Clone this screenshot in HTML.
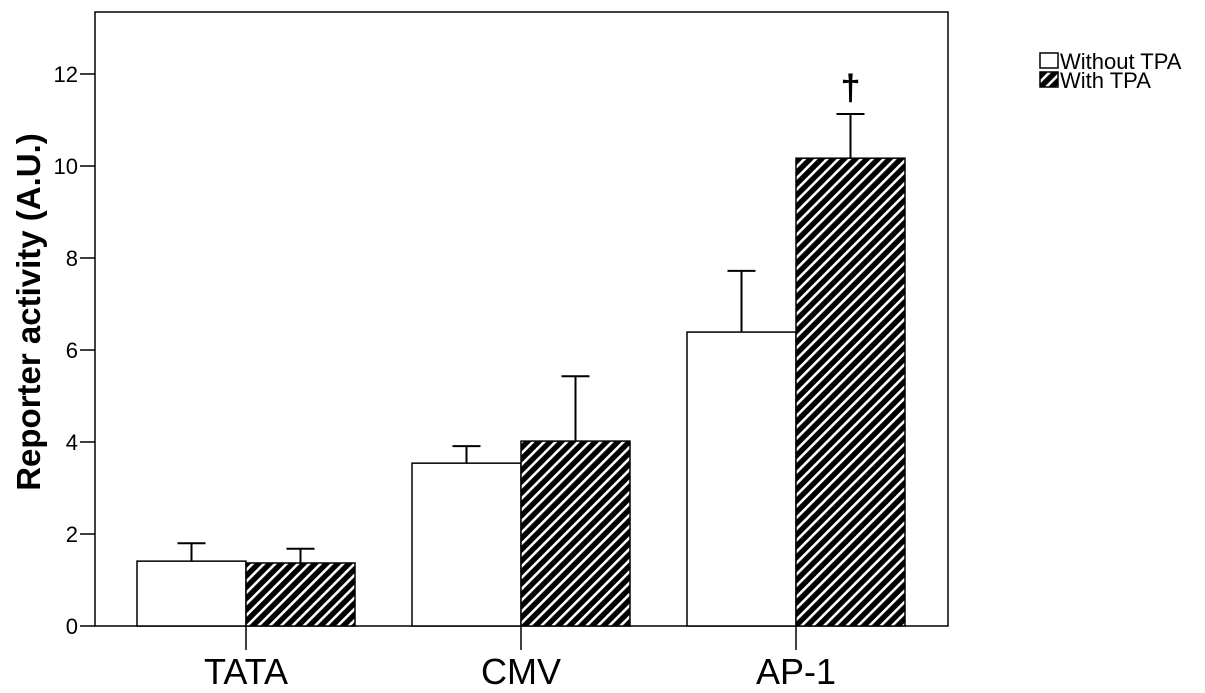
<!DOCTYPE html>
<html><head><meta charset="utf-8"><style>
html,body{margin:0;padding:0;background:#fff;}
svg{display:block;font-family:"Liberation Sans",Arial,sans-serif;}
</style></head><body>
<svg id="chart" width="1205" height="693" viewBox="0 0 1205 693">
<defs>
<pattern id="hatch" patternUnits="userSpaceOnUse" width="8" height="8" patternTransform="rotate(45)">
<rect width="8" height="8" fill="#000"/>
<rect x="0" y="0" width="2.6" height="8" fill="#fff"/>
</pattern>
</defs>
<rect x="95" y="12" width="853" height="614" fill="#fff" stroke="#000" stroke-width="1.5"/>
<g id="bars"></g>
<g id="axes"></g>
<text transform="translate(40,312) rotate(-90)" text-anchor="middle" font-size="33" font-weight="bold">Reporter activity (A.U.)</text>
<g>
<g>
<rect x="1040" y="53" width="18" height="15" fill="#fff" stroke="#000" stroke-width="1.5"/>
<text x="1060" y="69" font-size="22">Without TPA</text></g>
<g>
<rect x="1040" y="72" width="18" height="15" fill="url(#hatch)" stroke="#000" stroke-width="1.5"/>
<text x="1060" y="88" font-size="22">With TPA</text></g>
</g>
</svg>
<script>
const categories = ["TATA", "CMV", "AP-1"];
const withoutTPA = [1.41, 3.54, 6.39];
const withoutErr = [0.39, 0.37, 1.33];
const withTPA = [1.37, 4.02, 10.17];
const withErr = [0.31, 1.41, 0.96];
const yTicks = [0, 2, 4, 6, 8, 10, 12];
const markers = ["", "", "†"];

const NS = "http://www.w3.org/2000/svg";
const y0 = 626, pxPerUnit = 46, x0 = 246, catStep = 275, barW = 109;
function yScale(v){ return y0 - v * pxPerUnit; }
function xCenter(i){ return x0 + i * catStep; }
function mk(tag, attrs, parent){ const e = document.createElementNS(NS, tag); for (const k in attrs) e.setAttribute(k, attrs[k]); parent.appendChild(e); return e; }

const bars = document.getElementById("bars");
const axes = document.getElementById("axes");

categories.forEach((c, i) => {
  const cx = xCenter(i);
  [[withoutTPA, withoutErr, "#fff", -1, "without-tpa"], [withTPA, withErr, "url(#hatch)", 0, "with-tpa"]].forEach(([vals, errs, fill, off, nm]) => {
    const x = cx + off * barW;
    const top = yScale(vals[i]);
    const r = mk("rect", {x: x, y: top, width: barW, height: y0 - top, fill: fill, stroke: "#000", "stroke-width": 1.5}, bars);
    
    
    const ex = x + barW / 2, et = yScale(vals[i] + errs[i]);
    const eb = mk("path", {d: `M${ex},${top}V${et}M${ex-14},${et}H${ex+14}`, stroke: "#000", "stroke-width": 2, fill: "none"}, bars);
    
    
    if (off === 0 && markers[i]) {
      const m = mk("text", {x: ex, y: et - 14, "text-anchor": "middle", "font-size": 36, "font-weight": "bold"}, bars);
      m.textContent = markers[i];
      
      
    }
  });
  const t = mk("line", {x1: cx, x2: cx, y1: y0, y2: 650, stroke: "#000", "stroke-width": 1.5}, axes);
  
  
  const l = mk("text", {x: cx, y: 684, "text-anchor": "middle", "font-size": 36}, axes);
  l.textContent = c;
  
  
});

yTicks.forEach(v => {
  const y = yScale(v);
  const t = mk("line", {x1: 80, x2: 95, y1: y, y2: y, stroke: "#000", "stroke-width": 1.5}, axes);
  
  
  const l = mk("text", {x: 78, y: y + 8, "text-anchor": "end", "font-size": 22}, axes);
  l.textContent = v;
  
  
});
</script>
</body></html>
